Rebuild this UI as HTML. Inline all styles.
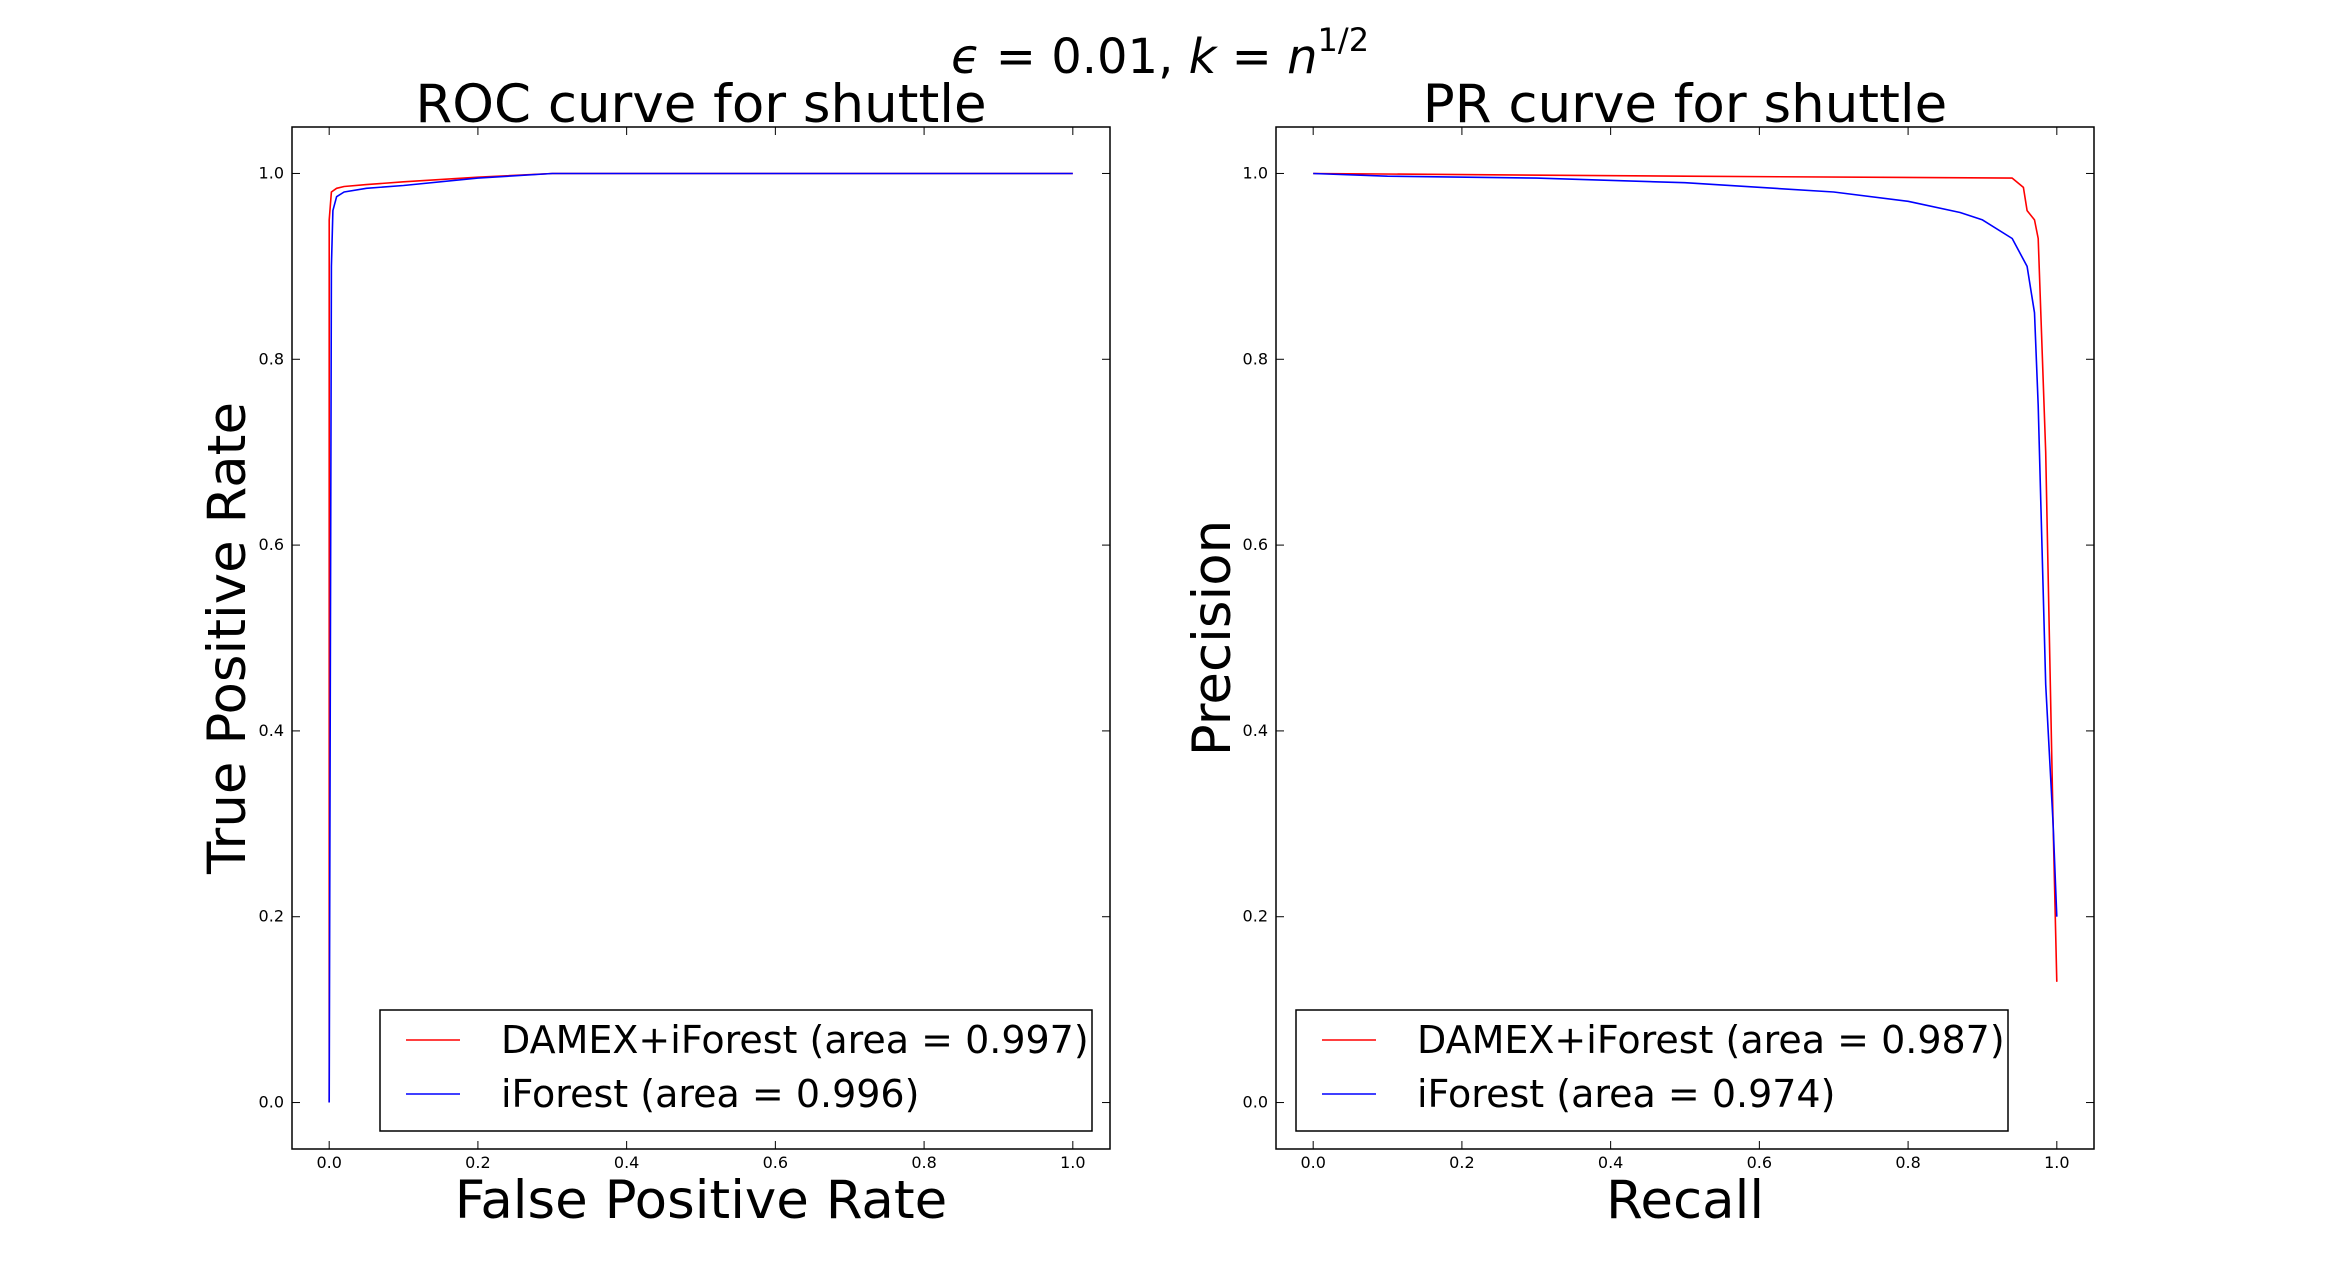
<!DOCTYPE html>
<html><head><meta charset="utf-8"><style>
html,body{margin:0;padding:0;background:#fff;}
svg{display:block;}
text{font-family:"DejaVu Sans","Liberation Sans",sans-serif;}
</style></head><body>
<svg id="fig" width="2326" height="1277" viewBox="0 0 2326 1277" xmlns="http://www.w3.org/2000/svg">
<rect width="2326" height="1277" fill="#fff"/>
<text x="1160" y="73" text-anchor="middle" font-family="'Liberation Serif',serif" font-size="48"><tspan font-style="italic">ϵ</tspan> = 0.01, <tspan font-style="italic">k</tspan> = <tspan font-style="italic">n</tspan><tspan dy="-22" font-size="32">1/2</tspan></text>
</svg>
<script>
const rocFpr = [0, 0, 0.003, 0.01, 0.02, 0.05, 0.1, 0.2, 0.3, 1];
const rocTprDamex = [0, 0.95, 0.98, 0.984, 0.986, 0.988, 0.991, 0.996, 1.0, 1.0];
const rocFprIf = [0, 0.003, 0.005, 0.01, 0.02, 0.05, 0.1, 0.2, 0.3, 1];
const rocTprIf = [0, 0.9, 0.96, 0.975, 0.98, 0.984, 0.987, 0.995, 1.0, 1.0];
const prRecallDamex = [0, 0.5, 0.94, 0.955, 0.96, 0.97, 0.975, 0.985, 0.995, 1.0];
const prPrecDamex = [1.0, 0.997, 0.995, 0.985, 0.96, 0.95, 0.93, 0.7, 0.3, 0.13];
const prRecallIf = [0, 0.1, 0.3, 0.5, 0.7, 0.8, 0.87, 0.9, 0.94, 0.96, 0.97, 0.975, 0.985, 0.995, 1.0];
const prPrecIf = [1.0, 0.997, 0.995, 0.99, 0.98, 0.97, 0.958, 0.95, 0.93, 0.9, 0.85, 0.75, 0.45, 0.3, 0.2];
const tickValues = [0.0, 0.2, 0.4, 0.6, 0.8, 1.0];
const tickLabels = ["0.0", "0.2", "0.4", "0.6", "0.8", "1.0"];

const NS = "http://www.w3.org/2000/svg";
const svg = document.getElementById('fig');
function mk(tag, attrs, parent){const e=document.createElementNS(NS,tag);for(const k in attrs)e.setAttribute(k,attrs[k]);(parent||svg).appendChild(e);return e;}

function panel(ox, title, xlabel, ylabel, ylabX, series, legendLabels, key, legOff){
  const L=ox, R=ox+818, T=127, B=1149;
  const sx=v=>L+(v+0.05)/1.1*(R-L);
  const sy=v=>B-(v+0.05)/1.1*(B-T);
  const g=mk('g',{});
  
  
  const frame=mk('rect',{x:L,y:T,width:R-L,height:B-T,fill:'none',stroke:'#000','stroke-width':1.5},g);
  
  
  tickValues.forEach((v,i)=>{
    const x=sx(v), y=sy(v);
    mk('line',{x1:x,x2:x,y1:B,y2:B-8,stroke:'#000','stroke-width':1},g);
    mk('line',{x1:x,x2:x,y1:T,y2:T+8,stroke:'#000','stroke-width':1},g);
    mk('line',{x1:L,x2:L+8,y1:y,y2:y,stroke:'#000','stroke-width':1},g);
    mk('line',{x1:R,x2:R-8,y1:y,y2:y,stroke:'#000','stroke-width':1},g);
    const tx=mk('text',{x:x,y:1168,'text-anchor':'middle','font-size':16},g);
    tx.textContent=tickLabels[i];
    
    
    const ty=mk('text',{x:L-8,y:y+5,'text-anchor':'end','font-size':16},g);
    ty.textContent=tickLabels[i];
    
    
  });
  series.forEach((s,i)=>{
    const d=s.x.map((v,j)=>(j?'L':'M')+sx(v).toFixed(1)+','+sy(s.y[j]).toFixed(1)).join(' ');
    const p=mk('path',{d:d,fill:'none',stroke:s.c,'stroke-width':1.6,'stroke-linejoin':'round'},g);
    
    
  });
  const t=mk('text',{x:(L+R)/2,y:122,'text-anchor':'middle','font-size':53},g);
  t.textContent=title;
  
  
  const xl=mk('text',{x:(L+R)/2,y:1218,'text-anchor':'middle','font-size':53},g);
  xl.textContent=xlabel;
  
  
  const yl=mk('text',{x:0,y:0,'text-anchor':'middle','font-size':53,transform:`translate(${ylabX},${(T+B)/2}) rotate(-90)`},g);
  yl.textContent=ylabel;
  
  
  const lg=mk('g',{},g);
  
  
  const lx=ox+legOff;
  mk('rect',{x:lx,y:1010,width:712,height:121,fill:'#fff',stroke:'#000','stroke-width':1.5},lg);
  series.forEach((s,i)=>{
    const y=1040+i*54;
    mk('line',{x1:lx+26,x2:lx+80,y1:y,y2:y,stroke:s.c,'stroke-width':1.6},lg);
    const tt=mk('text',{x:lx+121,y:y+13,'font-size':38},lg);
    tt.textContent=legendLabels[i];
    
    
  });
}
panel(292,'ROC curve for shuttle','False Positive Rate','True Positive Rate',245,
  [{x:rocFpr,y:rocTprDamex,c:'#ff0000',n:'damex'},{x:rocFprIf,y:rocTprIf,c:'#0000ff',n:'iforest'}],
  ['DAMEX+iForest (area = 0.997)','iForest (area = 0.996)'],'roc',88);
panel(1276,'PR curve for shuttle','Recall','Precision',1230,
  [{x:prRecallDamex,y:prPrecDamex,c:'#ff0000',n:'damex'},{x:prRecallIf,y:prPrecIf,c:'#0000ff',n:'iforest'}],
  ['DAMEX+iForest (area = 0.987)','iForest (area = 0.974)'],'pr',20);
</script>
</body></html>
